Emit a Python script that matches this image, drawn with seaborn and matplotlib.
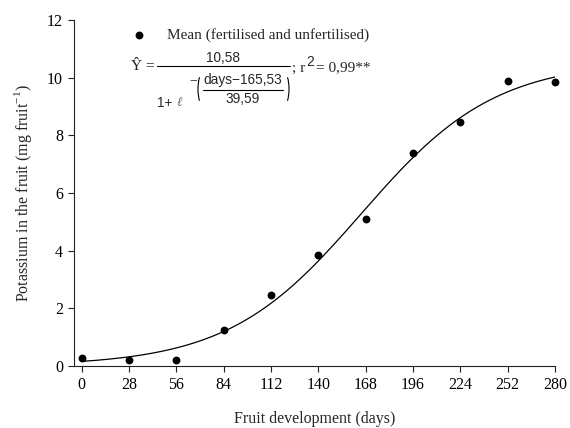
import numpy as np
import pandas as pd
import matplotlib
matplotlib.use("Agg")
import matplotlib.pyplot as plt
from matplotlib.patches import Arc
from matplotlib.transforms import Affine2D
import seaborn as sns

days = [0, 28, 56, 84, 112, 140, 168, 196, 224, 252, 280]
potassium = [0.27, 0.21, 0.21, 1.26, 2.46, 3.85, 5.10, 7.40, 8.45, 9.89, 9.85]
xticks = [0, 28, 56, 84, 112, 140, 168, 196, 224, 252, 280]
yticks = [0, 2, 4, 6, 8, 10, 12]
# fitted model parameters shown on the chart
a_par, x0_par, b_par = 10.58, 165.53, 39.59

sns.set_style("ticks")
plt.rcParams["font.family"] = ["Liberation Serif", "DejaVu Serif"]

W, H = 570, 428
fig = plt.figure(figsize=(W / 100, H / 100), dpi=100)
ax = fig.add_axes([74 / W, 62 / H, 481 / W, 346 / H])

df = pd.DataFrame({"days": days, "K": potassium})
xs = np.linspace(0, 280, 300)
fit = pd.DataFrame({"days": xs, "K": a_par / (1 + np.exp(-(xs - x0_par) / b_par))})

sns.lineplot(data=fit, x="days", y="K", color="black", lw=0.9, ax=ax, legend=False)
sns.scatterplot(data=df, x="days", y="K", color="black", s=32, edgecolor="black",
                linewidth=0, ax=ax, label="Mean (fertilised and unfertilised)", zorder=3,
                clip_on=False)

ax.set_xlim(-4.5, 280)
ax.set_ylim(0, 12)
ax.set_xticks(xticks)
ax.set_yticks(yticks)
ax.set_xticklabels([str(t) for t in xticks])
ax.set_yticklabels([str(t) for t in yticks])
for s in ["top", "right"]:
    ax.spines[s].set_visible(False)
for s in ["left", "bottom"]:
    ax.spines[s].set_linewidth(0.8)
    ax.spines[s].set_color("#222222")
ax.tick_params(axis="both", direction="out", length=4, width=0.8, labelsize=11.5,
               colors="#222222", labelcolor="black", pad=4)
ax.set_xlabel("Fruit development (days)", fontsize=11.5, labelpad=13)
ax.set_ylabel("Potassium in the fruit (mg fruit$^{\\mathregular{-1}}$)", fontsize=11.5, labelpad=9)

fs = 11
ax.legend(loc="center left", bbox_to_anchor=(131.4 / W, 1 - 35 / H),
          bbox_transform=fig.transFigure, frameon=False, fontsize=fs,
          borderpad=0, borderaxespad=0, handlelength=1.0, handletextpad=1.3,
          markerscale=1.0)


def fx(px):
    return px / W


def fy(py):
    return 1 - py / H


serif = "Liberation Serif"
sans = "Liberation Sans"
nfs = 9.8
fig.text(fx(131), fy(67), "Ŷ =", family=serif, fontsize=11, ha="left", va="center")
fig.add_artist(plt.Line2D([fx(157), fx(290)], [fy(66), fy(66)], color="black", lw=0.8))
fig.text(fx(223), fy(58), "10,58", family=sans, fontsize=nfs, ha="center", va="center")
fig.text(fx(157), fy(103), "1+", family=sans, fontsize=nfs, ha="left", va="center")
fig.text(fx(177), fy(103), "ℓ", family=serif, style="italic", fontsize=9.5,
         ha="left", va="center", color="#666666")
fig.text(fx(197), fy(81), "−", family=serif, fontsize=10, ha="right", va="center")

# thin tall parentheses around the exponent
pix = Affine2D().scale(1, -1).translate(0, H)
fig.add_artist(Arc((205, 89), 14, 38, theta1=115, theta2=245, lw=0.8,
                   color="black", transform=pix))
fig.add_artist(Arc((282, 89), 14, 38, theta1=-65, theta2=65, lw=0.8,
                   color="black", transform=pix))

fig.text(fx(243), fy(80), "days−165,53", family=sans, fontsize=nfs, ha="center", va="center")
fig.add_artist(plt.Line2D([fx(203), fx(283)], [fy(90), fy(90)], color="black", lw=0.8))
fig.text(fx(243), fy(99), "39,59", family=sans, fontsize=nfs, ha="center", va="center")
fig.text(fx(292), fy(68), "; r", family=serif, fontsize=11, ha="left", va="center")
fig.text(fx(306), fy(62), "2", family=sans, fontsize=10, ha="left", va="center")
fig.text(fx(316), fy(68), "= 0,99**", family=serif, fontsize=11, ha="left", va="center")

fig.savefig("out.png", dpi=100)
